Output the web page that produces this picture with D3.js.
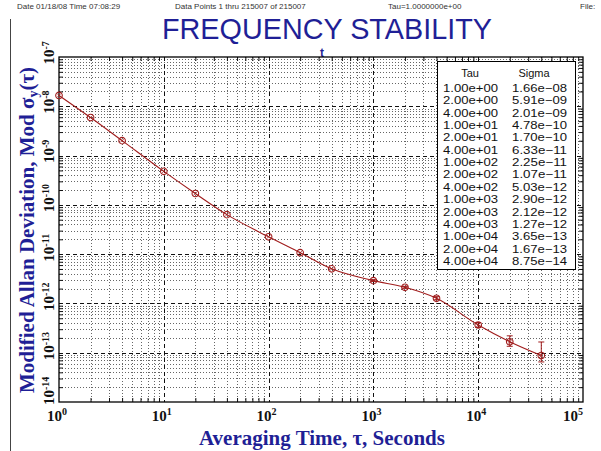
<!DOCTYPE html>
<html><head><meta charset="utf-8">
<script src="https://cdn.jsdelivr.net/npm/d3@7"></script>
<style>body{margin:0;background:#fff}svg{display:block}</style>
</head><body><svg id="c" width="601" height="451"></svg>
<script>
// ---- data ----
const tau = [1, 2, 4, 10, 20, 40, 100, 200, 400, 1000, 2000, 4000, 10000, 20000, 40000];
const sigma = [1.66e-8, 5.91e-9, 2.01e-9, 4.78e-10, 1.70e-10, 6.33e-11, 2.25e-11, 1.07e-11, 5.03e-12,
               2.90e-12, 2.12e-12, 1.27e-12, 3.65e-13, 1.67e-13, 8.75e-14];
const tauLabels = ["1.00e+00","2.00e+00","4.00e+00","1.00e+01","2.00e+01","4.00e+01","1.00e+02","2.00e+02",
                   "4.00e+02","1.00e+03","2.00e+03","4.00e+03","1.00e+04","2.00e+04","4.00e+04"];
const sigmaLabels = ["1.66e\u221208","5.91e\u221209","2.01e\u221209","4.78e\u221210","1.70e\u221210","6.33e\u221211",
                     "2.25e\u221211","1.07e\u221211","5.03e\u221212","2.90e\u221212","2.12e\u221212","1.27e\u221212",
                     "3.65e\u221213","1.67e\u221213","8.75e\u221214"];
// error bars (tau, low, high)
const errTau = [1000, 2000, 4000, 10000, 20000, 40000];
const errLo  = [2.78e-12, 2.03e-12, 1.18e-12, 3.25e-13, 1.35e-13, 6.5e-14];
const errHi  = [3.03e-12, 2.22e-12, 1.37e-12, 4.10e-13, 2.20e-13, 1.65e-13];
const xExp = [0, 1, 2, 3, 4, 5];
const yExp = [-7, -8, -9, -10, -11, -12, -13, -14];
const headerTexts = ["Date 01/18/08  Time 07:08:29", "Data Points 1 thru 215007 of 215007", "Tau=1.0000000e+00", "File:"];

// ---- layout ----
const L = 59, R = 583, T = 57, B = 402;
const svg = d3.select("#c");
const x = d3.scaleLog().domain([1, 1e5]).range([L, R]);
const y = d3.scaleLog().domain([1e-14, 1e-7]).range([B, T]);
const navy = "#1f1f96";
const red = "#a01c1c";

// frame line at left
svg.append("line").attr("x1", 10.5).attr("x2", 10.5).attr("y1", 19).attr("y2", 451)
  .attr("stroke", "#444").attr("stroke-width", 1);

// header
const hx = [17, 175, 388, 580];
headerTexts.forEach((t, i) => {
  svg.append("text").attr("x", hx[i]).attr("y", 9).attr("font-family", "Liberation Sans, Arial, sans-serif")
    .attr("font-size", 8).attr("fill", "#333").text(t);
});

// title
svg.append("text").attr("x", 327).attr("y", 39).attr("text-anchor", "middle")
  .attr("font-family", "Liberation Sans, Arial, sans-serif").attr("font-size", 30)
  .attr("textLength", 330).attr("lengthAdjust", "spacingAndGlyphs")
  .attr("fill", navy).text("FREQUENCY STABILITY");
svg.append("text").attr("x", 322).attr("y", 57).attr("text-anchor", "middle")
  .attr("font-family", "Liberation Sans, Arial, sans-serif").attr("font-weight", "bold").attr("font-size", 12)
  .attr("fill", navy).text("t");

// grids
const minorX = [], minorY = [];
for (let e = 0; e < 5; e++) for (let m = 2; m <= 9; m++) minorX.push(m * Math.pow(10, e));
for (let e = -14; e < -7; e++) for (let m = 2; m <= 9; m++) minorY.push(m * Math.pow(10, e));
const g = svg.append("g");
g.selectAll(".mx").data(minorX).join("line")
  .attr("x1", d => Math.round(x(d)) + 0.5).attr("x2", d => Math.round(x(d)) + 0.5).attr("y1", T).attr("y2", B)
  .attr("stroke", "#666").attr("stroke-width", 1).attr("stroke-dasharray", "1,2");
g.selectAll(".my").data(minorY).join("line")
  .attr("y1", d => Math.round(y(d)) + 0.5).attr("y2", d => Math.round(y(d)) + 0.5).attr("x1", L).attr("x2", R)
  .attr("stroke", "#666").attr("stroke-width", 1).attr("stroke-dasharray", "1,2");
g.selectAll(".Mx").data(xExp.slice(1, -1)).join("line")
  .attr("x1", d => Math.round(x(Math.pow(10, d))) + 0.5).attr("x2", d => Math.round(x(Math.pow(10, d))) + 0.5)
  .attr("y1", T).attr("y2", B).attr("stroke", "#111").attr("stroke-width", 1).attr("stroke-dasharray", "4,3");
g.selectAll(".My").data(yExp.slice(1, -1)).join("line")
  .attr("y1", d => Math.round(y(Math.pow(10, d))) + 0.5).attr("y2", d => Math.round(y(Math.pow(10, d))) + 0.5)
  .attr("x1", L).attr("x2", R).attr("stroke", "#111").attr("stroke-width", 1).attr("stroke-dasharray", "4,3");

// axes with inward ticks
const ax = [
  svg.append("g").attr("transform", `translate(0,${B})`).call(d3.axisTop(x).tickValues(minorX).tickSize(4).tickSizeOuter(0).tickFormat("")),
  svg.append("g").attr("transform", `translate(0,${T})`).call(d3.axisBottom(x).tickValues(minorX).tickSize(4).tickSizeOuter(0).tickFormat("")),
  svg.append("g").attr("transform", `translate(${L},0)`).call(d3.axisRight(y).tickValues(minorY).tickSize(4).tickSizeOuter(0).tickFormat("")),
  svg.append("g").attr("transform", `translate(${R},0)`).call(d3.axisLeft(y).tickValues(minorY).tickSize(4).tickSizeOuter(0).tickFormat(""))
];
ax.forEach(a => { a.select(".domain").remove(); a.selectAll("line").attr("stroke", "#111"); });

// border
svg.append("rect").attr("x", L).attr("y", T).attr("width", R - L).attr("height", B - T)
  .attr("fill", "none").attr("stroke", "#000").attr("stroke-width", 1.3);

// tick labels
const serif = "Liberation Serif, Times New Roman, serif";
xExp.forEach((e, i) => {
  const last = i === xExp.length - 1;
  const t = svg.append("text").attr("x", last ? R : x(Math.pow(10, e)) - 2).attr("y", 421)
    .attr("text-anchor", last ? "end" : "middle").attr("font-family", serif).attr("font-weight", "bold")
    .attr("font-size", 15).attr("fill", "#111");
  t.append("tspan").text("10");
  t.append("tspan").attr("dy", -6).attr("font-size", 10).text(e);
});
yExp.forEach((e, i) => {
  const yy = y(Math.pow(10, e));
  const last = i === yExp.length - 1;
  const pos = last ? 405 : yy + 7.5;
  const t = svg.append("text").attr("transform", `translate(54,${pos}) rotate(-90)`)
    .attr("text-anchor", "start").attr("font-family", serif).attr("font-weight", "bold")
    .attr("font-size", 15).attr("fill", "#111");
  t.append("tspan").text("10");
  t.append("tspan").attr("dy", -5).attr("font-size", 10).text("-" + Math.abs(e));
});

// axis titles
svg.append("text").attr("x", 322).attr("y", 445).attr("text-anchor", "middle")
  .attr("font-family", serif).attr("font-weight", "bold").attr("font-size", 21).attr("fill", navy)
  .text("Averaging Time, \u03C4, Seconds");
const yl = svg.append("text").attr("transform", `translate(33.5,230) rotate(-90)`).attr("text-anchor", "middle")
  .attr("font-family", serif).attr("font-weight", "bold").attr("font-size", 21).attr("fill", navy);
yl.append("tspan").text("Modified Allan Deviation, Mod \u03C3");
yl.append("tspan").attr("dy", 4).attr("font-size", 14).text("y");
yl.append("tspan").attr("dy", -4).text("(\u03C4)");

// data line
const pts = tau.map((t, i) => [t, sigma[i]]);
svg.append("path").datum(pts)
  .attr("d", d3.line().x(d => x(d[0])).y(d => y(d[1])).curve(d3.curveMonotoneX))
  .attr("fill", "none").attr("stroke", red).attr("stroke-width", 1.1);

// error bars
errTau.forEach((t, i) => {
  const xx = x(t);
  const eg = svg.append("g").attr("stroke", red).attr("stroke-width", 1);
  eg.append("line").attr("x1", xx).attr("x2", xx).attr("y1", y(errHi[i])).attr("y2", y(errLo[i]));
  eg.append("line").attr("x1", xx - 3).attr("x2", xx + 3).attr("y1", y(errHi[i])).attr("y2", y(errHi[i]));
  eg.append("line").attr("x1", xx - 3).attr("x2", xx + 3).attr("y1", y(errLo[i])).attr("y2", y(errLo[i]));
});

// markers
const mk = svg.append("g").selectAll("g").data(pts).join("g")
  .attr("transform", d => `translate(${x(d[0])},${y(d[1])})`).attr("stroke", red).attr("fill", "none");
mk.append("circle").attr("r", 3.3).attr("stroke-width", 1.1);
mk.append("path").attr("d", "M-2,-2L2,2M-2,2L2,-2").attr("stroke-width", 0.8);

// table
const tb = svg.append("g");
tb.append("rect").attr("x", 437.5).attr("y", 61.5).attr("width", 138).attr("height", 208)
  .attr("fill", "#fff").attr("stroke", "#000").attr("stroke-width", 1);
const sans = "Liberation Sans, Arial, sans-serif";
tb.append("text").attr("x", 470).attr("y", 77).attr("text-anchor", "middle").attr("font-family", sans)
  .attr("font-size", 11).attr("fill", "#111").text("Tau");
tb.append("text").attr("x", 534).attr("y", 77).attr("text-anchor", "middle").attr("font-family", sans)
  .attr("font-size", 11).attr("fill", "#111").text("Sigma");
tauLabels.forEach((t, i) => {
  const yy = 92 + i * 12.35;
  tb.append("text").attr("x", 443).attr("y", yy).attr("font-family", sans).attr("font-size", 10.6)
    .attr("textLength", 55).attr("lengthAdjust", "spacingAndGlyphs").attr("fill", "#111").text(t);
  tb.append("text").attr("x", 512).attr("y", yy).attr("font-family", sans).attr("font-size", 10.6)
    .attr("textLength", 55).attr("lengthAdjust", "spacingAndGlyphs").attr("fill", "#111").text(sigmaLabels[i]);
});
</script></body></html>
